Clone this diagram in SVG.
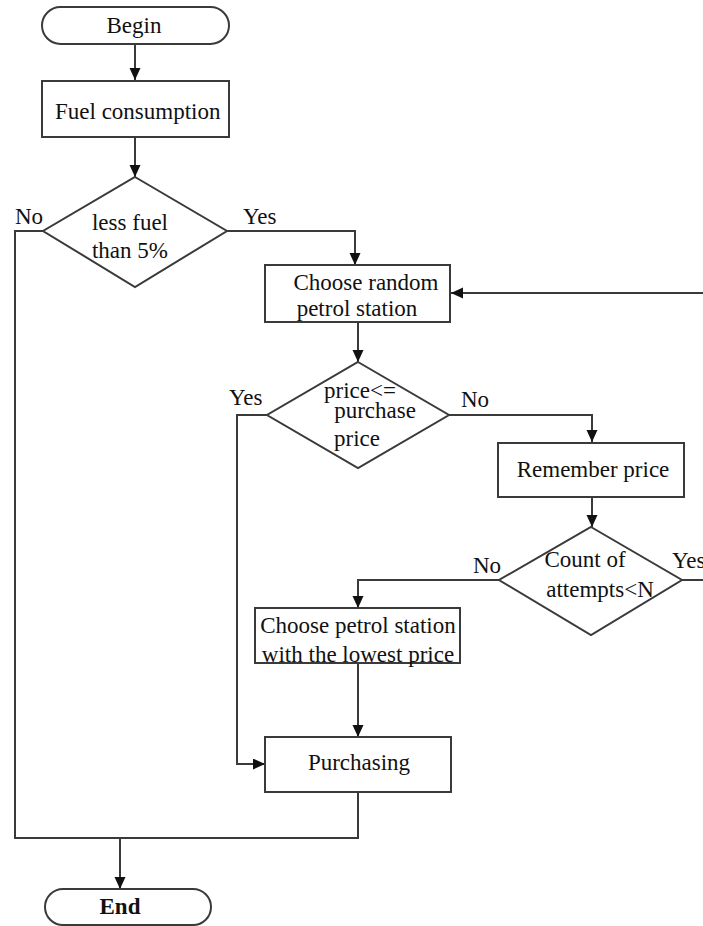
<svg xmlns="http://www.w3.org/2000/svg" width="703" height="926" viewBox="0 0 703 926">
<style>
.box{fill:#fff;stroke:#3a3a3a;stroke-width:2}
.ln{fill:none;stroke:#3a3a3a;stroke-width:2}
.t{font-family:"Liberation Serif","Times New Roman",serif;font-size:23px;fill:#111;text-anchor:middle}
.s{text-anchor:start}
.b{font-weight:bold}
</style>
<defs>
<marker id="arr" markerUnits="userSpaceOnUse" markerWidth="13" markerHeight="12" refX="12" refY="5.5" orient="auto">
<path d="M0,0 L12,5.5 L0,11 z" fill="#111"/>
</marker>
</defs>
<rect width="703" height="926" fill="#fff"/>
<g id="connectors">
<path class="ln" d="M135,44 V80" marker-end="url(#arr)"/>
<path class="ln" d="M135,137 V177" marker-end="url(#arr)"/>
<path class="ln" d="M227,231 H355 V265" marker-end="url(#arr)"/>
<path class="ln" d="M43,231 H15 V838 H358 V792"/>
<path class="ln" d="M120,838 V889" marker-end="url(#arr)"/>
<path class="ln" d="M703,293 H451" marker-end="url(#arr)"/>
<path class="ln" d="M358,322 V362" marker-end="url(#arr)"/>
<path class="ln" d="M267,415 H237 V764 H265" marker-end="url(#arr)"/>
<path class="ln" d="M449,415 H592 V442" marker-end="url(#arr)"/>
<path class="ln" d="M592,497 V527" marker-end="url(#arr)"/>
<path class="ln" d="M499,580 H358 V608" marker-end="url(#arr)"/>
<path class="ln" d="M682,580 H703"/>
<path class="ln" d="M358,663 V737" marker-end="url(#arr)"/>
<text class="t s" x="15" y="224">No</text>
<text class="t s" x="243" y="224">Yes</text>
<text class="t s" x="229" y="405">Yes</text>
<text class="t s" x="461" y="407">No</text>
<text class="t s" x="473" y="573">No</text>
<text class="t s" x="672" y="568">Yes</text>
</g>
<g id="begin">
<rect class="box" x="42" y="7" width="187" height="37" rx="18.5"/>
<text class="t" x="134" y="33">Begin</text>
</g>
<g id="fuel">
<rect class="box" x="42" y="81" width="187" height="56"/>
<text class="t s" x="55" y="119">Fuel consumption</text>
</g>
<g id="lessfuel">
<path class="box" d="M135,177 L227,231 L135,287 L43,231 z"/>
<text class="t" x="130" y="230">less fuel</text>
<text class="t" x="130" y="258">than 5%</text>
</g>
<g id="random">
<rect class="box" x="265" y="265" width="185" height="57"/>
<text class="t" x="366" y="290">Choose random</text>
<text class="t" x="357" y="316">petrol station</text>
</g>
<g id="pricecheck">
<path class="box" d="M358,362 L449,415 L358,468 L267,415 z"/>
<text class="t" x="360" y="398">price&lt;=</text>
<text class="t" x="375" y="418">purchase</text>
<text class="t" x="357" y="446">price</text>
</g>
<g id="remember">
<rect class="box" x="498" y="443" width="186" height="54"/>
<text class="t" x="593" y="477">Remember price</text>
</g>
<g id="count">
<path class="box" d="M591,527 L682,580 L591,635 L499,580 z"/>
<text class="t" x="585" y="567">Count of</text>
<text class="t" x="600" y="597">attempts&lt;N</text>
</g>
<g id="lowest">
<rect class="box" x="255" y="608" width="205" height="55"/>
<text class="t" x="358" y="633">Choose petrol station</text>
<text class="t" x="358" y="662">with the lowest price</text>
</g>
<g id="purchasing">
<rect class="box" x="265" y="737" width="186" height="55"/>
<text class="t" x="359" y="770">Purchasing</text>
</g>
<g id="end">
<rect class="box" x="45" y="889" width="166" height="36" rx="18"/>
<text class="t b" x="120" y="914">End</text>
</g>
</svg>
